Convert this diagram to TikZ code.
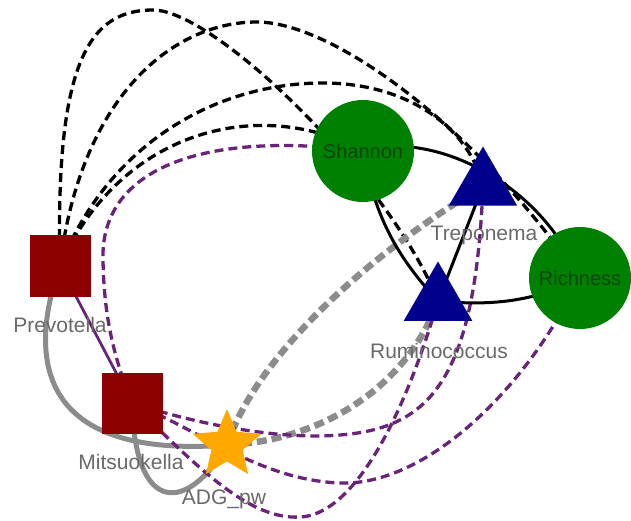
\documentclass[tikz,border=0pt]{standalone}
\usepackage{fontspec}
\setmainfont{Liberation Sans}
\usetikzlibrary{shapes.geometric,backgrounds}
\definecolor{sqred}{RGB}{140,0,0}
\definecolor{cgreen}{RGB}{0,128,0}
\definecolor{tgreen}{RGB}{10,70,10}
\definecolor{tnavy}{RGB}{0,0,140}
\definecolor{starorange}{RGB}{255,168,0}
\definecolor{lblgray}{RGB}{105,105,105}
\definecolor{edgegray}{RGB}{140,140,140}
\definecolor{edgepurple}{RGB}{105,35,120}
\tikzset{
  sqbox/.style={rectangle, fill=sqred, minimum size=61pt, inner sep=0pt},
  circnode/.style={circle, fill=cgreen, minimum size=102pt, inner sep=0pt, text=tgreen, font=\fontsize{20}{22}\selectfont},
  trinode/.style={regular polygon, regular polygon sides=3, fill=tnavy, minimum size=79pt, inner sep=0pt},
  starnode/.style={star, star points=5, star point ratio=2.2, fill=starorange, minimum size=72pt, inner sep=0pt},
  lbl/.style={text=lblgray, font=\fontsize{21}{23}\selectfont, inner sep=0pt},
  bdash/.style={black, line width=3.3pt, dash pattern=on 9pt off 5pt},
  bsolid/.style={black, line width=3pt},
  pdash/.style={edgepurple, line width=3.3pt, dash pattern=on 9pt off 5pt},
  psolid/.style={edgepurple, line width=2.8pt},
  gdash/.style={edgegray, line width=6.5pt, dash pattern=on 10pt off 5pt},
  gsolid/.style={edgegray, line width=5pt}
}
\begin{document}
\begin{tikzpicture}[x=1pt,y=-1pt]
\useasboundingbox (0,0) rectangle (631,521);
% nodes
\node[sqbox] (prev) at (60,266) {};
\node[sqbox] (mits) at (132,403) {};
\node[starnode] (adg) at (227,445) {};
\node[circnode] (shan) at (363,151) {Shannon};
\node[circnode] (rich) at (580,278) {Richness};
\node[trinode] (trep) at (483,186) {};
\node[trinode] (rumi) at (438,301) {};
% labels
\node[lbl] (prevl) at (60,325) {Prevotella};
\node[lbl] (mitsl) at (131,462) {Mitsuokella};
\node[lbl] (adgl) at (224,499) {ADG\_pw};
\node[lbl] (trepl) at (484,235) {Treponema};
\node[lbl] (rumil) at (439,351) {Ruminococcus};
% edges
\begin{scope}[on background layer]
\draw[bdash] (prev.center) .. controls (55,60) and (90,10) .. (153,10) .. controls (215,10) and (390,180) .. (rumi.center);
\draw[bdash] (prev.center) .. controls (80,100) and (170,22) .. (257,22) .. controls (330,22) and (470,120) .. (rich.center);
\draw[bdash] (prev.center) .. controls (110,140) and (220,83) .. (323,83) .. controls (410,83) and (470,130) .. (trep.center);
\draw[bdash] (prev.center) .. controls (120,130) and (260,95) .. (shan.center);
\draw[pdash] (shan.center) .. controls (200,130) and (100,170) .. (103,260) .. controls (104,320) and (115,360) .. (mits.center);
\draw[psolid] (prev.center) -- (mits.center);
\draw[gsolid] (prev.center) .. controls (30,350) and (30,460) .. (adg.center);
\draw[gsolid] (mits.center) .. controls (135,520) and (190,510) .. (adg.center);
\draw[gdash] (adg.center) .. controls (255,360) and (360,260) .. (trep.center);
\draw[gdash] (adg.center) .. controls (330,440) and (410,380) .. (rumi.center);
\draw[pdash] (mits.center) .. controls (200,425) and (280,440) .. (340,435) .. controls (430,428) and (475,380) .. (trep.center);
\draw[pdash] (mits.center) .. controls (200,430) and (260,480) .. (340,483) .. controls (420,486) and (520,400) .. (rich.center);
\draw[pdash] (mits.center) .. controls (200,470) and (250,520) .. (300,517) .. controls (350,515) and (400,430) .. (rumi.center);
\draw[bsolid] (shan.center) .. controls (430,130) and (540,180) .. (rich.center);
\draw[bsolid] (shan.center) .. controls (375,220) and (400,260) .. (rumi.center);
\draw[bsolid] (trep.center) -- (rumi.center);
\draw[bsolid] (rumi.center) .. controls (480,305) and (530,305) .. (rich.center);
\end{scope}
\end{tikzpicture}
\end{document}
